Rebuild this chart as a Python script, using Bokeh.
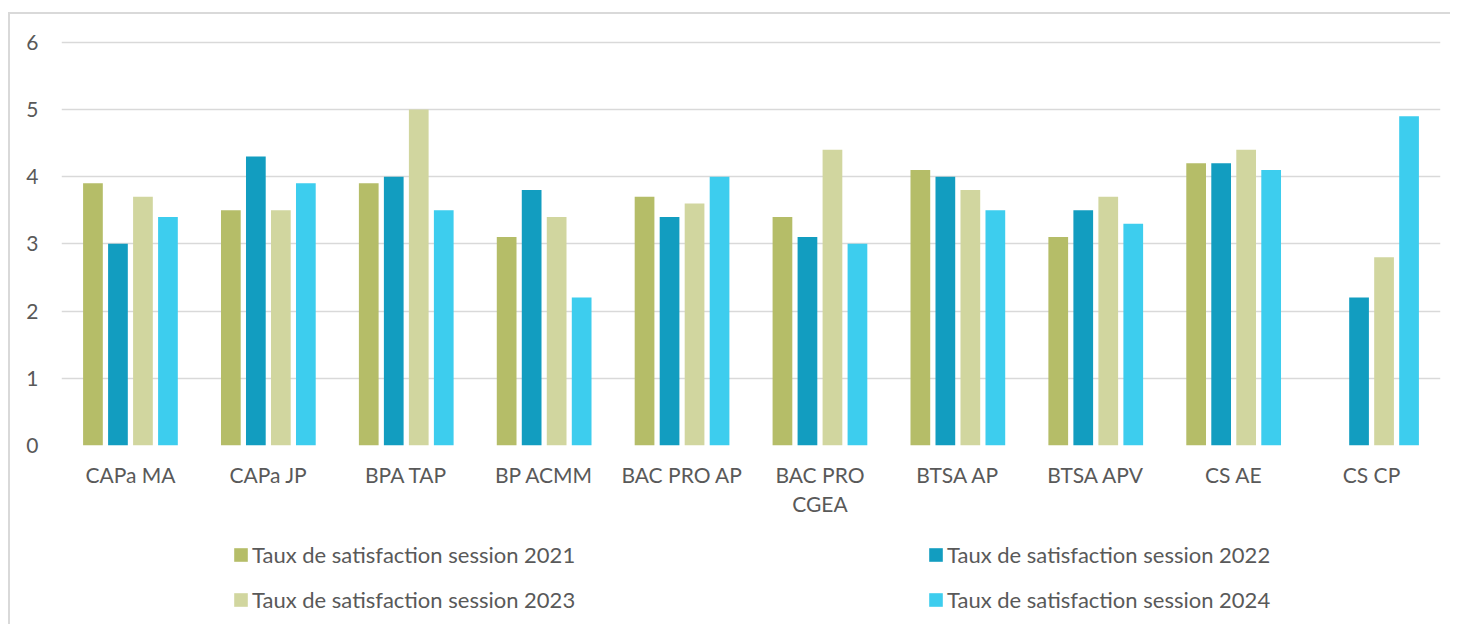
import numpy as np
from bokeh.plotting import figure
from bokeh.layouts import column
from bokeh.models import (ColumnDataSource, Range1d, FixedTicker, Legend, LegendItem,
                          LinearAxis)
from bokeh.embed import file_html
from bokeh.resources import INLINE

categories = ["CAPa MA", "CAPa JP", "BPA TAP", "BP ACMM", "BAC PRO AP",
              "BAC PRO CGEA", "BTSA AP", "BTSA APV", "CS AE", "CS CP"]
# tick labels as displayed (second line only where the label wraps)
label_line1 = ["CAPa MA", "CAPa JP", "BPA TAP", "BP ACMM", "BAC PRO AP",
               "BAC PRO", "BTSA AP", "BTSA APV", "CS AE", "CS CP"]
label_line2 = ["", "", "", "", "", "CGEA", "", "", "", ""]
series_names = ["Taux de satisfaction session 2021",
                "Taux de satisfaction session 2022",
                "Taux de satisfaction session 2023",
                "Taux de satisfaction session 2024"]
s2021 = [3.9, 3.5, 3.9, 3.1, 3.7, 3.4, 4.1, 3.1, 4.2, np.nan]
s2022 = [3.0, 4.3, 4.0, 3.8, 3.4, 3.1, 4.0, 3.5, 4.2, 2.2]
s2023 = [3.7, 3.5, 5.0, 3.4, 3.6, 4.4, 3.8, 3.7, 4.4, 2.8]
s2024 = [3.4, 3.9, 3.5, 2.2, 4.0, 3.0, 3.5, 3.3, 4.1, 4.9]
y_ticks = [0, 1, 2, 3, 4, 5, 6]
colors = ["#B5BD68", "#129DC0", "#D1D69F", "#3DCDEE"]

FONT = "Lato"
FS = "21px"
TXT = "#595959"
GRID = "#d9d9d9"

idx = np.arange(len(categories), dtype=float)
src = ColumnDataSource(data=dict(idx=idx,
                                 s2021=np.array(s2021, dtype=float),
                                 s2022=np.array(s2022, dtype=float),
                                 s2023=np.array(s2023, dtype=float),
                                 s2024=np.array(s2024, dtype=float)))

step = 0.1813
bw = 0.143
keys = ["s2021", "s2022", "s2023", "s2024"]
for i, k in enumerate(keys):
    src.data["x_" + k] = idx + (i - 1.5) * step

# ---- main chart ----
p = figure(x_range=Range1d(-0.5, len(categories) - 0.5), y_range=Range1d(0, 6.04),
           width=1440, height=516, output_backend="svg", toolbar_location=None,
           min_border_left=51, min_border_right=10, min_border_top=25, min_border_bottom=85)
p.outline_line_color = None

for k, c in zip(keys, colors):
    p.vbar(x="x_" + k, top=k, width=bw, source=src, fill_color=c, line_color=None)

p.yaxis.ticker = FixedTicker(ticks=y_ticks)
p.yaxis.axis_line_color = None
p.yaxis.major_tick_line_color = None
p.yaxis.major_tick_out = 0
p.yaxis.minor_tick_line_color = None
p.yaxis.major_label_standoff = 23
p.yaxis.major_label_text_font = FONT
p.yaxis.major_label_text_font_size = FS
p.yaxis.major_label_text_color = TXT

p.xaxis.ticker = FixedTicker(ticks=list(idx))
p.xaxis.major_label_overrides = {float(i): t for i, t in enumerate(label_line1)}

ax2 = LinearAxis(ticker=FixedTicker(ticks=list(idx)),
                 major_label_overrides={float(i): t for i, t in enumerate(label_line2)})
p.add_layout(ax2, "below")

for ax in (p.xaxis[0], ax2):
    ax.axis_line_color = None
    ax.major_tick_line_color = None
    ax.major_tick_out = 0
    ax.minor_tick_line_color = None
    ax.major_label_text_font = FONT
    ax.major_label_text_font_size = FS
    ax.major_label_text_color = TXT
p.xaxis[0].major_label_standoff = 16
ax2.major_label_standoff = 1

p.xgrid.grid_line_color = None
p.ygrid.grid_line_color = GRID
p.ygrid.grid_line_width = 1.5

# ---- legend strip (same series, drawn out of view; only the legend shows) ----
pl = figure(x_range=Range1d(-100, -99), y_range=Range1d(10, 11),
            width=1440, height=94, output_backend="svg", toolbar_location=None,
            x_axis_type=None, y_axis_type=None,
            min_border_left=0, min_border_right=0, min_border_top=0, min_border_bottom=0)
pl.outline_line_color = None
pl.grid.visible = False
items = []
for k, c, name in zip(keys, colors, series_names):
    r = pl.vbar(x="x_" + k, top=k, width=bw, source=src, fill_color=c, line_color=None)
    items.append(LegendItem(label=name, renderers=[r]))

legend = Legend(items=items, location=(171, 11), orientation="horizontal", ncols=2,
                padding=0, spacing=18, glyph_width=17, glyph_height=17,
                label_standoff=3, label_width=657, label_height=20,
                label_text_font=FONT, label_text_font_size="22px", label_text_color=TXT,
                border_line_color=None, background_fill_alpha=0)
pl.add_layout(legend, "center")

layout = column(p, pl, spacing=0,
                styles={"margin-top": "12px", "margin-left": "8px",
                        "border-top": "2px solid #d9d9d9", "border-left": "2px solid #d9d9d9"})

open("out.html", "w").write(file_html(layout, INLINE))
